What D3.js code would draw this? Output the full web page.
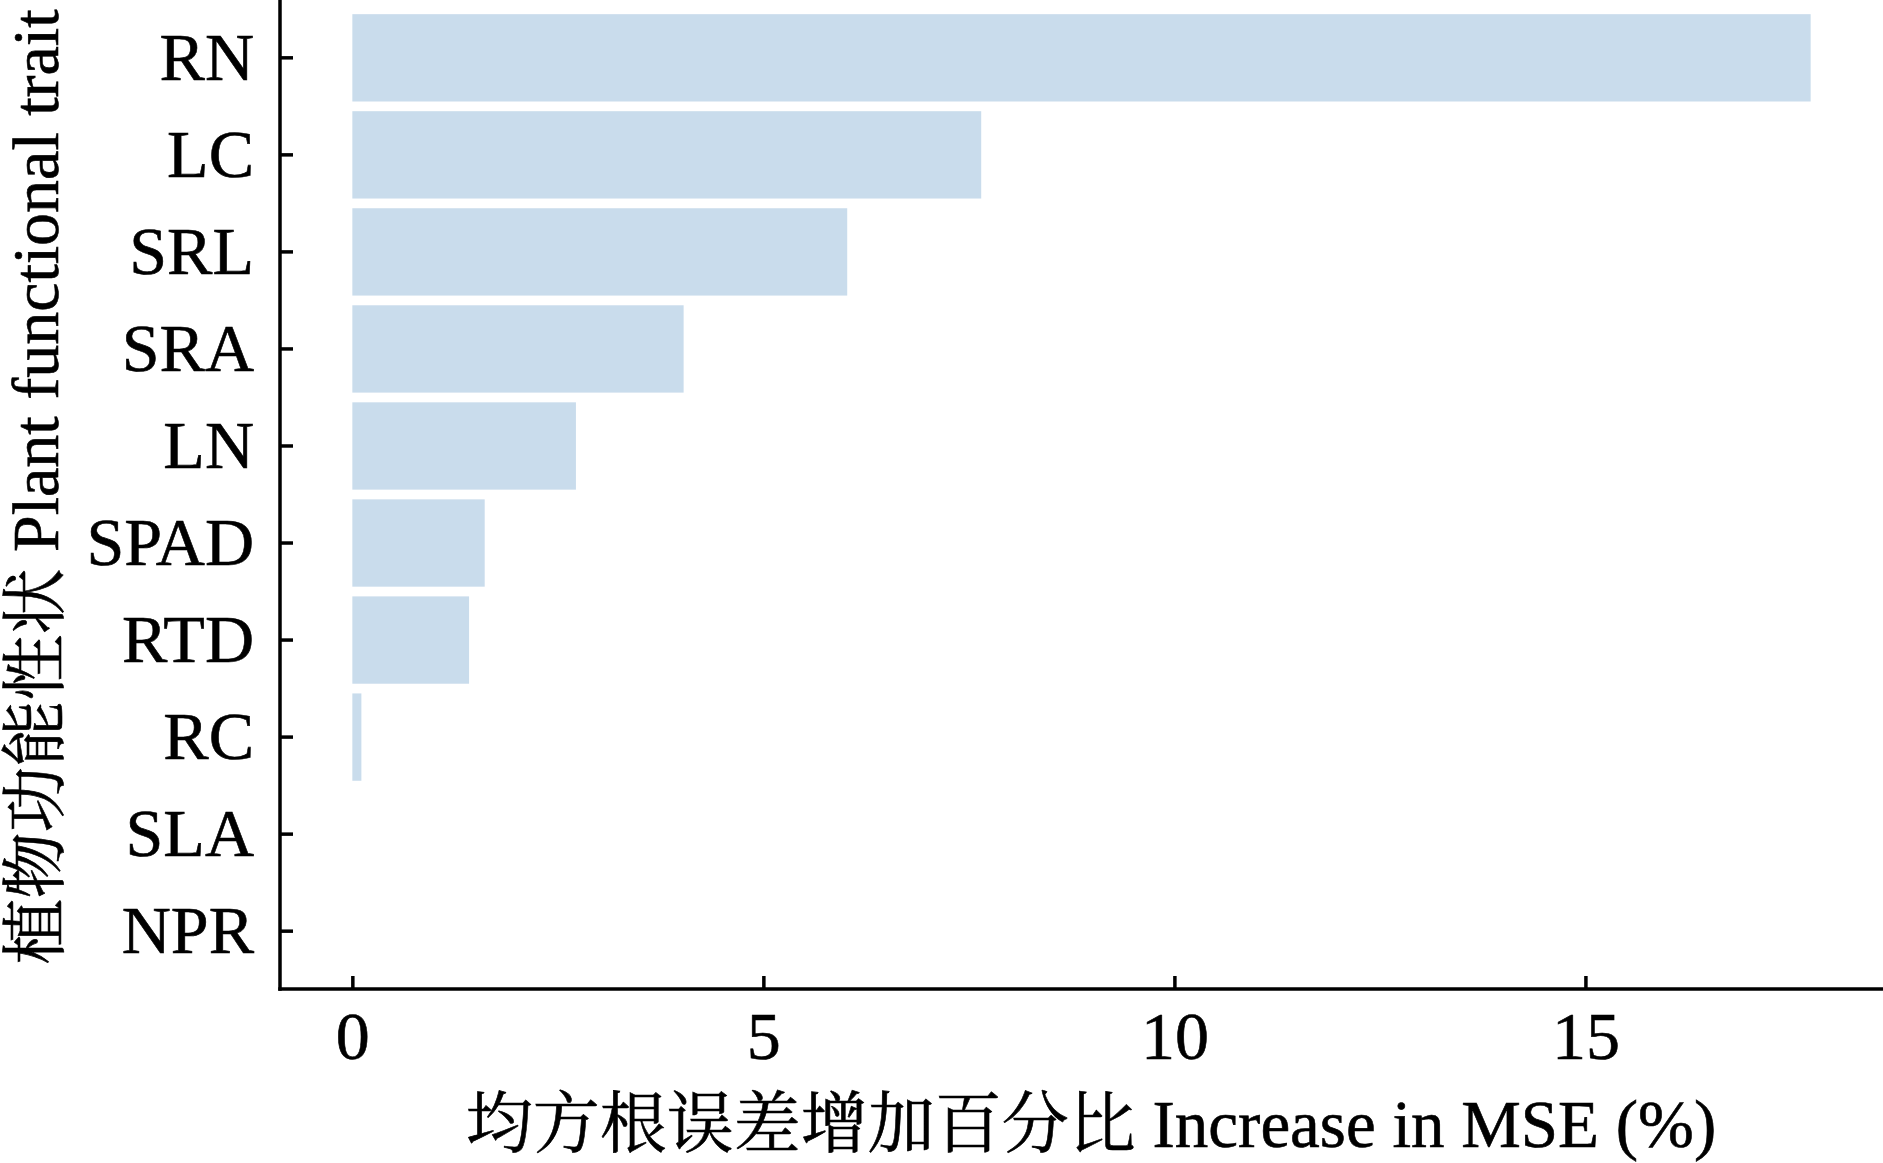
<!DOCTYPE html>
<html>
<head>
<meta charset="utf-8">
<script src="https://cdn.jsdelivr.net/npm/d3@7"></script>
<style>
  html, body { margin: 0; padding: 0; background: #fff; }
  svg { display: block; }
  text { font-family: "Liberation Serif", "Times New Roman", "Noto Serif CJK SC", "Noto Sans CJK SC", serif; fill: #000; stroke: #000; stroke-width: 0.6px; }
</style>
</head>
<body>
<svg id="chart" width="1883" height="1163"></svg>
<script>
const categories = ["RN", "LC", "SRL", "SRA", "LN", "SPAD", "RTD", "RC", "SLA", "NPR"];
const values = [17.74, 7.65, 6.02, 4.03, 2.72, 1.61, 1.42, 0.11, 0, 0];
const xTicks = [0, 5, 10, 15];
const xTitle = "均方根误差增加百分比 Increase in MSE (%)";
const yTitle = "植物功能性状 Plant functional trait";

const mLeft = 280, mRight = 1883, mTop = 0, mBottom = 989;
const svg = d3.select("#chart");

const x = d3.scaleLinear().domain([-0.88, 18.62]).range([mLeft, mRight]);
const y = d3.scaleBand().domain(categories).range([mTop, mBottom]).paddingInner(0.1).paddingOuter(0.146);

const data = categories.map((c, i) => ({ c, v: values[i] }));

svg.append("g").selectAll("rect").data(data).join("rect")
  .attr("x", d => x(Math.min(0, d.v)))
  .attr("y", d => y(d.c))
  .attr("width", d => Math.abs(x(d.v) - x(0)))
  .attr("height", y.bandwidth())
  .attr("fill", "#c9dcec");

const tickFs = 68, titleFs = 67;

const yAxis = svg.append("g").attr("transform", `translate(${mLeft},0)`)
  .call(d3.axisLeft(y).tickSizeInner(-13).tickSizeOuter(0).tickPadding(26));
yAxis.selectAll("text").attr("font-size", tickFs).style("font-family", '"Liberation Serif", serif');
yAxis.selectAll("line, path").attr("stroke", "#000").attr("stroke-width", 3.5);

const xAxis = svg.append("g").attr("transform", `translate(0,${mBottom})`)
  .call(d3.axisBottom(x).tickValues(xTicks).tickFormat(d3.format("d")).tickSizeInner(-13).tickSizeOuter(0).tickPadding(22));
xAxis.selectAll("text").attr("font-size", tickFs).style("font-family", '"Liberation Serif", serif');
xAxis.selectAll("line, path").attr("stroke", "#000").attr("stroke-width", 3.5);
yAxis.select(".domain").attr("d", `M0,${mTop}V${mBottom + 1.75}`);
xAxis.select(".domain").attr("d", `M${mLeft - 1.75},0H${mRight}`);

svg.append("text")
  .attr("x", 1091).attr("y", 1147)
  .attr("text-anchor", "middle")
  .attr("font-size", titleFs)
  .text(xTitle);

svg.append("text")
  .attr("transform", `translate(58,487) rotate(-90)`)
  .attr("text-anchor", "middle")
  .attr("font-size", 66)
  .text(yTitle);
</script>
</body>
</html>
